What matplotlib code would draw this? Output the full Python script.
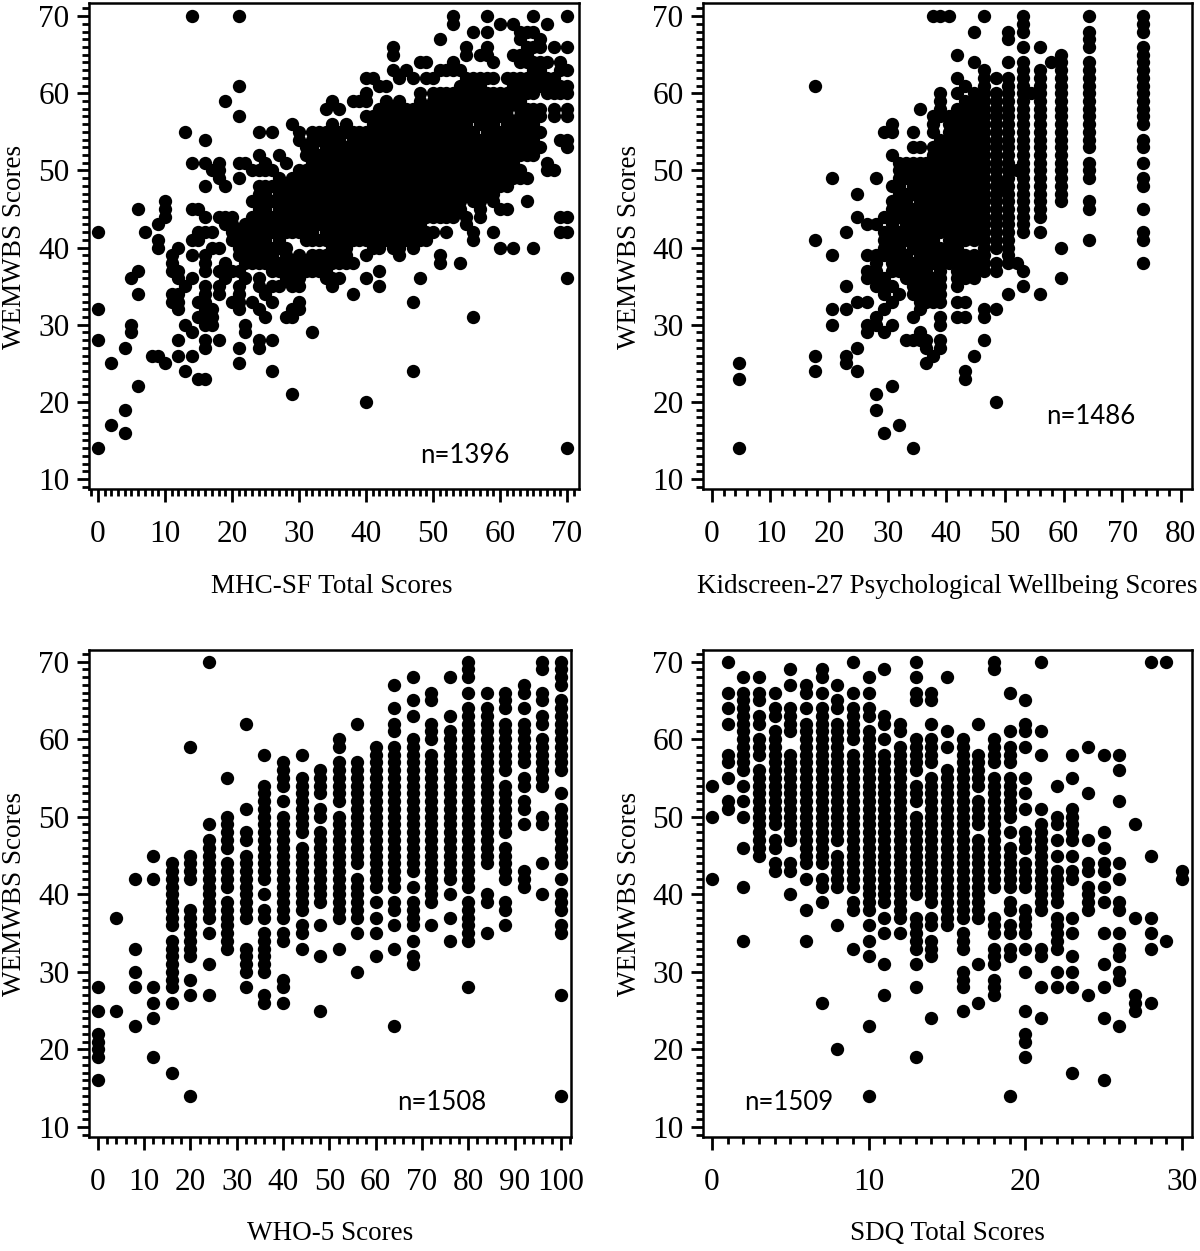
import matplotlib
matplotlib.use('Agg')
import matplotlib.pyplot as plt
from matplotlib.ticker import MultipleLocator

W, H = 1200, 1251
plt.rcParams['font.family'] = ['Liberation Serif', 'DejaVu Serif']

# MHC-SF total score, one list of WEMWBS values per column
mhc_x = list(range(0, 71))
mhc_y = [
 [42,32,28,14], [], [25,17], [], [27,19,16], [36,30,29], [45,37,34,22], [42], [26],
 [43,41,40,26],
 [46,45,44,25],
 [39,38,37,34,33],
 [40,37,36,34,33,32,28,26],
 [55,35,30,24],
 [70,51,45,41,39,36,29,26],
 [45,42,41,33,31,23],
 [54,51,48,44,42,39,38,37,35,34,33,32,31,30,28,27,23],
 [50,42,40,32,31,30],
 [51,50,49,44,40,37,35,34,28],
 [59,48,44,43,38,37,36],
 [44,43,42,41,37,33],
 [70,61,57,51,49,42,41,40,39,37,35,34,33,32,27,25],
 [51,43,42,41,40,39,38,36,30,29],
 [50,46,44,43,42,41,40,39,38,33],
 [55,52,50,48,47,46,45,44,43,42,41,40,39,38,36,35,32,28,27],
 [51,50,48,47,46,45,44,43,42,41,40,39,38,34,31],
 [55,50,48,46,44,43,42,40,39,38,37,35,33,28,24],
 [52,49,48,47,46,45,44,43,42,41,40,38,37,35],
 [51,48,47,45,43,42,40,39,38,37,36,31],
 [56,49,48,46,45,44,43,42,38,37,35,32,31,21],
 [55,54,50,49,48,47,46,45,44,43,42,39,38,37,36,35,33,32],
 [53,52,50,49,48,47,46,45,44,43,42,41,38,37],
 [55,54,53,52,51,50,49,48,47,46,45,44,43,42,41,39,38,37,29],
 [55,54,52,51,50,49,48,47,46,45,44,43,41,39,38,37],
 [58,55,53,52,51,50,49,48,47,46,45,44,43,42,41,39,38,37,36],
 [59,56,55,54,53,52,51,50,49,48,47,46,45,44,43,42,41,40,38,36,35],
 [58,55,54,53,52,51,50,49,48,47,46,45,44,43,42,41,40,39,38,36],
 [56,55,53,52,51,50,49,48,47,46,45,44,43,42,41,40,39,38],
 [59,55,54,53,52,51,50,49,48,47,46,45,44,43,42,41,38,34],
 [59,55,54,53,52,51,50,49,48,47,46,45,44,43,42,41],
 [62,60,59,57,55,54,53,52,51,50,49,48,47,46,45,44,43,42,41,39,36,20],
 [62,57,56,55,54,53,52,51,50,49,48,47,46,45,44,43,42,41,40],
 [61,58,57,56,55,54,53,52,51,50,49,48,47,46,45,44,43,42,41,40,37,35],
 [61,59,58,57,56,55,54,53,52,51,50,49,48,47,46,45,44,43,42,41],
 [66,65,63,58,57,56,55,54,53,52,51,50,49,48,47,46,45,44,43,42,41,40],
 [62,59,58,57,56,55,54,53,52,51,50,49,48,47,46,45,44,43,42,41,40,39],
 [63,58,57,56,55,54,53,52,51,50,49,48,47,46,45,44,43,42,41],
 [62,58,57,56,55,54,53,52,51,50,49,48,47,46,45,44,43,42,41,40,33,24],
 [64,60,59,58,57,56,55,54,53,52,51,50,49,48,47,46,45,44,43,41,36],
 [64,62,58,57,56,55,54,53,52,51,50,49,48,47,46,45,44,42,41],
 [62,60,59,58,57,56,55,54,53,52,51,50,49,48,47,46,45,44,42],
 [67,63,60,59,58,57,56,55,54,53,52,51,50,49,48,47,46,45,44,39,38],
 [63,60,59,58,57,56,55,54,53,52,51,50,49,48,47,46,45,44,42],
 [70,69,64,63,60,59,58,57,56,55,54,53,52,51,50,49,48,47,46,45,44],
 [63,61,60,59,58,57,56,55,54,53,52,51,50,49,48,47,46,45,38],
 [66,65,62,60,59,58,57,56,55,54,53,52,51,50,49,48,47,44,43],
 [68,62,61,60,59,58,57,55,54,53,52,51,50,49,48,47,46,42,41,31],
 [65,62,61,60,59,58,57,56,54,53,52,51,50,49,48,47,46,45,44],
 [70,68,66,65,62,60,59,58,57,55,54,53,52,51,50,49,48,47],
 [64,62,60,59,58,57,56,55,54,53,52,50,49,48,47,46,42],
 [69,60,59,58,57,55,54,53,52,51,50,49,48,45,40],
 [62,60,59,58,57,56,55,54,53,52,51,50,49,48,45],
 [69,65,62,61,60,59,56,55,54,53,52,51,50,49,40],
 [68,67,65,64,62,61,60,59,58,57,56,55,54,53,52,50,49],
 [68,66,65,64,62,61,60,58,57,56,55,54,53,52,49,46],
 [70,68,66,64,63,62,61,60,58,57,56,55,54,53,52,40],
 [67,66,64,63,62,61,58,57,55,53],
 [69,64,62,61,60,51,50],
 [66,62,60,58,57,50],
 [64,63,61,60,54,44,42],
 [70,66,63,61,60,58,57,54,53,44,42,36,14],
]

# Kidscreen-27 wellbeing score, columns sit at uneven positions
kid_x = [4.6, 17.6, 20.5, 22.9, 24.8, 26.5, 28, 29.3, 30.7, 32, 33.1, 34.3, 35.5, 36.6, 37.8,
         39, 40.5, 41.8, 43.2, 44.8, 46.5, 48.4, 49.5, 50.6, 52, 53, 54.5, 56, 57.8, 59.5, 64.3, 73.5]
kid_y = [
 [25,23,14],
 [61,41,26,24],
 [49,39,32,30],
 [42,35,32,26,25],
 [47,44,33,27,24],
 [43,39,37,36,33,30,29],
 [49,43,39,38,37,36,35,31,30,21,19],
 [55,44,42,41,40,39,36,35,34,32,29,16],
 [56,55,52,48,46,45,44,43,42,41,40,39,38,37,35,33,30,22],
 [51,50,49,48,47,46,45,44,42,41,40,39,38,37,34,17],
 [51,50,49,47,46,45,44,43,42,41,39,38,37,36,28],
 [55,53,51,50,49,48,47,45,44,43,42,41,40,38,37,36,35,34,31,28,14],
 [58,53,51,50,48,47,46,45,44,43,42,41,40,39,38,37,36,34,33,32,29,28],
 [51,49,48,47,46,45,44,43,42,41,40,39,38,37,35,34,33,28,27,25],
 [70,57,56,55,53,52,51,50,49,48,47,46,45,44,43,42,41,40,39,38,36,35,34,33,26],
 [70,60,59,58,57,54,53,52,51,50,49,48,47,46,45,44,43,42,40,39,38,37,36,35,34,33,31,30,28,27],
 [70,57,56,55,54,53,52,51,50,49,48,47,46,45,44,43,42,41,40,39,38],
 [65,62,60,58,57,56,55,54,53,52,51,50,49,48,47,46,45,44,43,42,41,40,39,38,37,36,35,33,31],
 [61,59,58,57,56,55,54,53,52,51,50,49,48,47,46,45,44,43,42,41,39,38,37,36,33,31,24,23],
 [68,64,60,59,58,57,56,55,54,53,52,51,50,49,48,47,46,45,44,43,42,41,39,38,37,36,26],
 [70,63,62,61,60,59,58,57,56,55,54,53,52,51,50,49,48,47,46,45,44,43,42,41,40,39,38,37,32,31,28],
 [62,60,59,58,57,56,55,54,53,52,51,50,49,48,47,46,45,44,43,42,41,40,38,37,32,20],
 [48],
 [68,67,64,62,61,60,59,58,57,56,55,54,53,52,51,50,49,48,47,46,45,44,43,42,41,40,39,38,34],
 [50,38],
 [70,69,68,66,64,63,62,61,60,59,58,57,56,55,54,53,52,51,50,49,48,47,46,45,44,43,42,37,35],
 [60],
 [66,63,62,61,60,59,58,57,56,55,54,53,52,51,50,49,48,47,46,45,44,42,34],
 [64],
 [65,64,63,62,61,60,59,58,57,56,55,54,53,52,51,50,49,48,47,46,40,36],
 [70,68,67,66,64,63,62,61,60,59,58,57,56,55,54,53,51,50,49,46,45,41],
 [70,69,68,66,65,64,63,62,61,60,59,58,57,56,54,53,51,49,48,45,42,41,38],
]

# WHO-5 score, multiples of 4
who_x = list(range(0, 101, 4))
who_y = [
 [28,25,22,21,20,19,16],
 [37,25],
 [42,33,30,28,23],
 [45,42,28,26,24,19],
 [44,43,42,41,40,39,38,37,36,34,33,32,31,30,29,28,26,17],
 [59,45,44,43,42,38,37,36,35,34,33,32,29,27,14],
 [70,49,47,46,45,44,43,42,41,40,39,38,37,35,31,27],
 [55,50,49,48,47,46,44,43,42,41,39,38,37,36,35,34,33],
 [62,51,48,47,45,44,43,42,41,40,39,38,37,33,32,31,30,28],
 [58,54,53,52,51,50,49,48,47,46,45,44,43,42,40,38,37,35,34,33,32,31,30,27,26],
 [57,56,55,54,52,50,49,48,47,46,45,44,43,42,41,40,39,38,37,35,34,29,28,26],
 [58,55,54,53,52,51,50,49,48,46,45,44,43,42,41,40,39,38,36,35,33],
 [56,55,54,53,51,50,48,47,46,45,44,43,42,41,40,39,36,32,25],
 [60,59,57,56,55,54,53,52,50,49,48,47,46,45,44,43,42,41,40,39,38,37,33],
 [62,57,56,55,54,53,52,51,50,49,48,47,46,45,44,42,41,40,39,38,37,35,30],
 [59,58,57,56,55,54,53,52,51,50,49,48,47,46,45,44,43,42,41,39,37,35,32],
 [67,64,62,61,59,58,57,56,55,54,53,52,51,50,49,48,47,46,45,44,43,42,41,39,38,36,33,23],
 [68,65,63,60,59,58,57,56,55,54,53,52,51,50,49,48,47,46,45,44,43,41,39,38,37,36,34,32,31],
 [66,65,62,61,60,58,57,56,55,54,53,52,51,50,49,48,47,46,45,44,43,42,41,40,39,36],
 [68,63,61,60,59,58,57,56,55,54,53,52,51,50,49,48,47,46,45,44,43,42,40,37,34],
 [70,69,68,66,64,63,62,61,60,59,58,57,56,55,54,53,52,51,50,49,48,47,46,45,44,43,42,41,39,38,37,36,35,34,28],
 [66,64,63,62,61,60,59,58,57,56,55,54,53,52,51,50,49,48,47,46,45,44,40,39,35],
 [66,65,64,62,61,60,59,58,57,56,54,53,52,51,50,49,48,46,45,44,43,42,39,38,36],
 [67,66,64,62,61,60,59,58,57,55,54,52,51,49,43,42,41],
 [70,69,66,65,63,62,60,59,58,57,56,55,54,50,49,44,40],
 [70,69,68,67,65,64,63,62,61,60,59,58,57,56,53,51,50,49,48,47,46,45,44,42,40,39,38,36,35,27,14],
]

# SDQ total score
sdq_x = list(range(0, 31))
sdq_y = [
 [54,50,42],
 [70,66,64,62,58,57,55,52,51],
 [68,66,65,64,63,62,61,60,59,58,57,56,54,52,50,46,41,34],
 [68,66,65,63,62,60,59,58,56,55,54,53,52,51,50,49,48,47,46,45],
 [66,64,63,61,60,59,58,57,56,55,54,53,52,51,50,49,47,46,44,43],
 [69,67,64,63,62,61,58,57,56,55,54,53,52,51,50,49,48,47,44,43,40],
 [67,66,64,62,61,60,59,58,57,56,55,54,53,52,51,50,49,48,47,46,45,44,42,38,34],
 [69,68,66,64,63,62,61,60,59,58,57,56,55,54,53,52,51,50,49,48,47,46,45,44,42,41,39,26],
 [67,65,64,62,61,60,59,58,57,56,55,54,53,52,51,50,49,48,47,45,44,43,42,41,36,20],
 [70,66,64,63,62,61,60,58,57,56,55,54,53,52,51,50,49,48,47,46,45,44,43,42,41,39,38,33],
 [68,66,64,63,61,60,59,58,57,56,55,54,53,52,51,50,49,48,47,46,45,44,43,42,41,40,39,38,36,34,32,23,14],
 [69,63,62,60,58,57,56,55,54,53,52,51,50,49,48,47,46,45,44,43,42,41,40,39,37,35,31,27],
 [62,61,59,58,57,56,55,54,53,52,51,50,49,48,47,46,45,44,43,42,41,40,39,38,37,35],
 [70,68,66,65,60,59,58,57,56,54,53,52,50,49,48,47,46,45,44,43,42,41,40,37,36,35,34,33,31,28,19],
 [66,65,62,60,59,58,57,55,54,53,52,51,50,49,48,47,46,45,44,43,42,41,40,39,37,36,34,33,32,24],
 [68,61,59,56,55,54,53,52,51,50,49,48,47,46,45,44,43,42,41,40,39,38,37,36],
 [60,59,58,57,56,55,54,53,52,51,50,49,48,47,46,45,44,43,42,41,40,39,38,37,35,34,33,30,29,28,25],
 [62,58,57,56,55,54,52,51,50,49,47,46,45,44,43,42,41,40,39,38,37,31,26],
 [70,69,60,59,58,57,55,54,53,52,51,50,49,48,47,46,45,44,43,42,41,37,36,35,33,32,31,29,28,27],
 [66,61,59,58,57,55,54,53,52,51,50,48,46,45,44,43,42,41,39,38,36,35,33,32,14],
 [65,62,61,59,55,53,51,48,47,46,44,43,42,41,38,37,36,35,33,30,25,22,21,19],
 [70,61,58,51,49,48,47,46,45,44,43,42,41,40,39,38,33,32,28,24],
 [54,50,49,47,45,43,42,41,40,39,37,36,35,34,33,30,28],
 [58,55,51,50,49,48,47,45,43,42,37,35,32,30,28,17],
 [59,53,47,44,43,41,40,39,38,27],
 [58,48,46,44,43,41,39,35,31,28,24,16],
 [58,56,52,44,42,39,38,35,33,32,30,29,23],
 [49,37,27,26,25],
 [70,45,37,35,33,26],
 [70,34],
 [43,42],
]

x_titles = ['MHC-SF Total Scores', 'Kidscreen-27 Psychological Wellbeing Scores', 'WHO-5 Scores', 'SDQ Total Scores']
n_labels = ['n=1396', 'n=1486', 'n=1508', 'n=1509']
x_ticks = [range(0, 71, 10), range(0, 81, 10), range(0, 101, 10), range(0, 31, 10)]
y_ticks = range(10, 71, 10)

fig = plt.figure(figsize=(W/100, H/100), dpi=100)


def panel(box, xs, ys, xlim, ylim, xt, minor, title, title_xy, ylab_xy, n, n_xy):
    l, t, r, b = box
    ax = fig.add_axes([l/W, 1-b/H, (r-l)/W, (b-t)/H])
    for x, col in zip(xs, ys):
        ax.scatter([x]*len(col), col, s=92, c='black', linewidths=0, clip_on=False)
    ax.set_xlim(*xlim)
    ax.set_ylim(*ylim)
    ax.set_xticks(list(xt))
    ax.set_yticks(list(y_ticks))
    ax.xaxis.set_minor_locator(MultipleLocator(minor))
    ax.yaxis.set_minor_locator(MultipleLocator(1))
    ax.tick_params(axis='both', which='major', length=9, width=2, labelsize=22.5)
    ax.tick_params(axis='both', which='minor', length=5, width=2)
    ax.tick_params(axis='x', which='major', pad=13)
    ax.tick_params(axis='y', which='major', pad=5)
    for s in ax.spines.values():
        s.set_linewidth(1.8)
    fig.text(title_xy[0]/W, 1-title_xy[1]/H, title, ha='center', va='center', fontsize=19.5)
    fig.text(ylab_xy[0]/W, 1-ylab_xy[1]/H, 'WEMWBS Scores', rotation=90, ha='center', va='center', fontsize=19.5)
    fig.text(n_xy[0]/W, 1-n_xy[1]/H, n, ha='center', va='center', fontsize=18.5, family='Lato')


panel((89, 3, 579, 489), mhc_x, mhc_y, (-1.34, 71.8), (8.7, 71.7), x_ticks[0], 1,
      x_titles[0], (332, 586), (15, 247), n_labels[0], (465, 456))
panel((703, 3, 1192, 489), kid_x, kid_y, (-1.5, 81.9), (8.7, 71.7), x_ticks[1], 2,
      x_titles[1], (947, 586), (630, 247), n_labels[1], (1091, 417))
panel((89, 650, 571, 1137), who_x, who_y, (-1.9, 102.2), (8.7, 71.5), x_ticks[2], 2,
      x_titles[2], (330, 1233), (15, 894), n_labels[2], (442, 1102))
panel((703, 650, 1192, 1137), sdq_x, sdq_y, (-0.57, 30.64), (8.7, 71.5), x_ticks[3], 1,
      x_titles[3], (947, 1233), (630, 894), n_labels[3], (789, 1102))

fig.savefig('out.png', dpi=100)
